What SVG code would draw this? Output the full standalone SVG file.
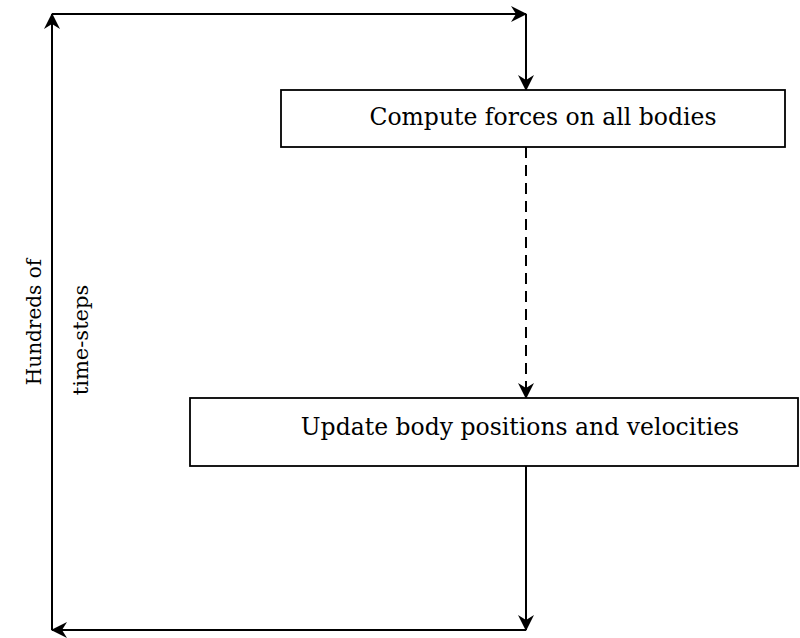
<svg xmlns="http://www.w3.org/2000/svg" width="800" height="638" viewBox="0 0 800 638">
<style>
.ln{stroke:#000;stroke-width:2;fill:none}
.box{fill:#fff;stroke:#000;stroke-width:1.8}
.t{font-family:"DejaVu Serif","Liberation Serif",serif;fill:#000}
</style>
<defs>
<marker id="ah" markerWidth="18" markerHeight="18" refX="15" refY="9" orient="auto" markerUnits="userSpaceOnUse">
<path d="M0,1 L16,9 L0,17 L5,9 Z" fill="#000"/>
</marker>
</defs>
<rect width="800" height="638" fill="#fff"/>
<g id="connectors">
<path class="ln" d="M52,14 L526,14" marker-end="url(#ah)"/>
<path class="ln" d="M526,14 L526,90" marker-end="url(#ah)"/>
<path class="ln" d="M526,147 L526,398" stroke-dasharray="11,7" marker-end="url(#ah)"/>
<path class="ln" d="M526,466 L526,630" marker-end="url(#ah)"/>
<path class="ln" d="M526,630 L52,630" marker-end="url(#ah)"/>
<path class="ln" d="M52,630 L52,14" marker-end="url(#ah)"/>
</g>
<g id="compute">
<rect class="box" x="281" y="90" width="504" height="57"/>
<text class="t" x="543" y="125" font-size="23.5" text-anchor="middle">Compute forces on all bodies</text>
</g>
<g id="update">
<rect class="box" x="190" y="398" width="608" height="68"/>
<text class="t" x="520" y="435" font-size="23.5" text-anchor="middle">Update body positions and velocities</text>
</g>
<g id="labels">
<text class="t" transform="translate(41,322) rotate(-90)" font-size="20" text-anchor="middle">Hundreds of</text>
<text class="t" transform="translate(88,340) rotate(-90)" font-size="21" text-anchor="middle">time-steps</text>
</g>
</svg>
